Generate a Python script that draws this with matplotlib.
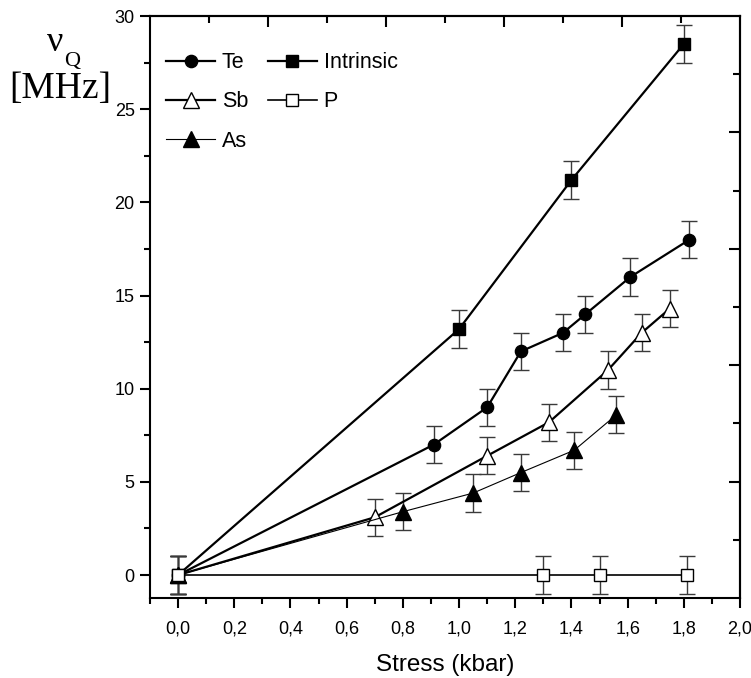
import numpy as np
import matplotlib.pyplot as plt

# stress (kbar) and quadrupole frequency (MHz) for each dopant
te_x = [0.0, 0.91, 1.10, 1.22, 1.37, 1.45, 1.61, 1.82]
te_y = [0.0, 7.0, 9.0, 12.0, 13.0, 14.0, 16.0, 18.0]
intr_x = [0.0, 1.00, 1.40, 1.80]
intr_y = [0.0, 13.2, 21.2, 28.5]
sb_x = [0.0, 0.70, 1.10, 1.32, 1.53, 1.65, 1.75]
sb_y = [0.0, 3.1, 6.4, 8.2, 11.0, 13.0, 14.3]
as_x = [0.0, 0.80, 1.05, 1.22, 1.41, 1.56]
as_y = [0.0, 3.4, 4.4, 5.5, 6.7, 8.6]
p_x = [0.0, 1.30, 1.50, 1.81]
p_y = [0.0, 0.0, 0.0, 0.0]
err = 1.0

plt.rcParams['font.family'] = ['Liberation Sans', 'DejaVu Sans']

fig = plt.figure(figsize=(7.51, 6.78), dpi=100)
ax = fig.add_axes([0.1997, 0.118, 0.7857, 0.8584])

ebar = dict(ecolor='#3a3a3a', elinewidth=1.0, capsize=5.5, capthick=1.0)

def series(x, y, label, marker, face, ms, lw):
    ax.errorbar(x, y, yerr=err, fmt='none', zorder=2, **ebar)
    ax.plot(x, y, color='black', lw=lw, marker=marker, ms=ms,
            mfc=face, mec='black', mew=1.0, label=label, zorder=3)

series(te_x, te_y, 'Te', 'o', 'black', 8.8, 1.6)
series(sb_x, sb_y, 'Sb', '^', 'white', 11, 1.6)
series(as_x, as_y, 'As', '^', 'black', 11, 0.8)
series(intr_x, intr_y, 'Intrinsic', 's', 'black', 8.2, 1.6)
series(p_x, p_y, 'P', 's', 'white', 8.2, 1.2)

xmin, xmax = -0.1, 2.0
ymin, ymax = -1.23, 30.0
ax.set_xlim(xmin, xmax)
ax.set_ylim(ymin, ymax)

ax.set_xticks(np.arange(0, 2.01, 0.2))
ax.set_xticks(np.arange(-0.1, 2.01, 0.1), minor=True)
ax.set_xticklabels([('%.1f' % v).replace('.', ',') for v in np.arange(0, 2.01, 0.2)])
ax.set_yticks([0, 5, 10, 15, 20, 25, 30])
ax.set_yticks(np.arange(0, 30.1, 2.5), minor=True)

for s in ax.spines.values():
    s.set_linewidth(1.5)
ax.tick_params(which='major', direction='out', length=7, width=1.5,
               labelsize=13, pad=4, top=False, right=False)
ax.tick_params(which='minor', direction='out', length=4, width=1.5,
               top=False, right=False)
ax.tick_params(axis='x', which='major', pad=9)

# top and right frame ticks in axes fractions
sx = ax.secondary_xaxis('top', functions=(lambda v: (v - xmin) / (xmax - xmin),
                                          lambda f: xmin + f * (xmax - xmin)))
sy = ax.secondary_yaxis('right', functions=(lambda v: (v - ymin) / (ymax - ymin),
                                            lambda f: ymin + f * (ymax - ymin)))
for sec, axis in ((sx, sx.xaxis), (sy, sy.yaxis)):
    axis.set_ticks([0.2, 0.4, 0.6, 0.8])
    axis.set_ticks([0.1, 0.3, 0.5, 0.7, 0.9], minor=True)
    sec.tick_params(which='major', direction='in', length=8, width=1.5,
                    labelsize=0)
    sec.tick_params(which='minor', direction='in', length=5, width=1.5)
    axis.set_ticklabels([])
    for s in sec.spines.values():
        s.set_linewidth(1.5)

ax.set_xlabel('Stress (kbar)', fontsize=17.5, labelpad=12)

fig.text(0.062, 0.925, 'ν', fontsize=26, family='Liberation Serif')
fig.text(0.086, 0.903, 'Q', fontsize=16, family='Liberation Serif')
fig.text(0.012, 0.856, '[MHz]', fontsize=27, family='Liberation Serif')

ax.legend(ncol=2, frameon=False, loc='upper left', fontsize=15.5,
          bbox_to_anchor=(0.005, 0.96), handlelength=2.3, handletextpad=0.3,
          labelspacing=0.85, columnspacing=0.9, borderaxespad=0.2,
          numpoints=1)

fig.savefig('out.png', dpi=100)
